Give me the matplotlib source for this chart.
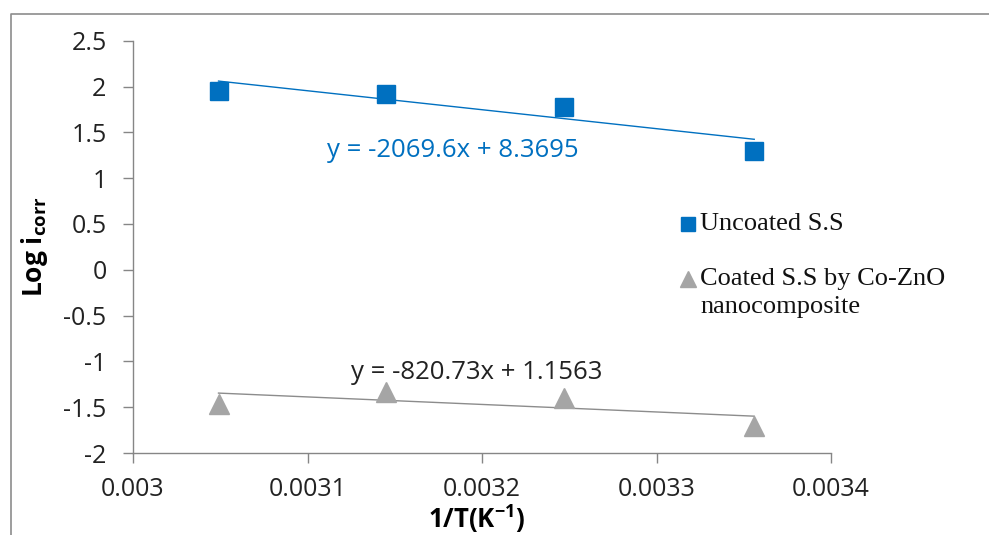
import matplotlib

matplotlib.use("Agg")
import matplotlib.pyplot as plt
from matplotlib.lines import Line2D

# 1/T for 328, 318, 308, 298 K
inv_t = [0.003049, 0.003145, 0.003247, 0.003356]
uncoated = [1.95, 1.92, 1.78, 1.30]
coated = [-1.46, -1.33, -1.40, -1.70]

# Excel linear trendline coefficients (slope, intercept)
fit_uncoated = (-2069.6, 8.3695)
fit_coated = (-820.73, 1.1563)

x_ticks = [0.003, 0.0031, 0.0032, 0.0033, 0.0034]
y_ticks = [-2, -1.5, -1, -0.5, 0, 0.5, 1, 1.5, 2, 2.5]

BLUE = "#0070C0"
GRAY = "#A5A5A5"
AXIS = "#868686"
TICK_FONT = "Open Sans"
SERIF = "Liberation Serif"

fig = plt.figure(figsize=(9.89, 5.35), dpi=100)
ax = fig.add_axes([133 / 989, 1 - 453 / 535, (831 - 133) / 989, (453 - 40.7) / 535])

# trendlines over the data range
for fit, col in ((fit_uncoated, BLUE), (fit_coated, "#8C8C8C")):
    xs = [inv_t[0], inv_t[-1]]
    ax.plot(xs, [fit[0] * x + fit[1] for x in xs], color=col, lw=1.0, zorder=2)

ax.plot(inv_t, uncoated, "s", color=BLUE, ms=13, zorder=3)
ax.plot(inv_t, coated, "^", color=GRAY, ms=14, zorder=3)

ax.set_xlim(0.003, 0.0034)
ax.set_ylim(-2, 2.5)
ax.set_xticks(x_ticks)
ax.set_xticklabels([f"{v:g}" for v in x_ticks])
ax.set_yticks(y_ticks)
ax.set_yticklabels([f"{v:g}" for v in y_ticks])

for s in ("top", "right"):
    ax.spines[s].set_visible(False)
for s in ("left", "bottom"):
    ax.spines[s].set_color(AXIS)
    ax.spines[s].set_linewidth(1.0)
ax.tick_params(direction="out", length=7, width=1.0, color=AXIS,
               labelsize=18, labelcolor="#222222")
ax.tick_params(axis="y", pad=12)
ax.tick_params(axis="x", pad=10)
for lab in ax.get_xticklabels() + ax.get_yticklabels():
    lab.set_family(TICK_FONT)

# equations
ax.text(0.003183, 1.30, "y = -2069.6x + 8.3695", color=BLUE, fontsize=18.5,
        family=TICK_FONT, ha="center", va="center")
ax.text(0.003197, -1.12, "y = -820.73x + 1.1563", color="#222222", fontsize=18.5,
        family=TICK_FONT, ha="center", va="center")

# axis labels
fig.text(35 / 989, 1 - 247 / 535, r"Log i$_{\mathregular{corr}}$", rotation=90,
         ha="center", va="center", fontsize=19, fontweight="bold",
         family=TICK_FONT)
fig.text(477 / 989, 1 - 519 / 535, r"1/T(K$^{\mathregular{-1}}$)",
         ha="center", va="center", fontsize=18.5, fontweight="bold",
         family=TICK_FONT)

# legend (drawn by hand to place the wrapped second entry)
fig.add_artist(Line2D([688 / 989], [1 - 224 / 535], marker="s", color=BLUE,
                      ms=10.5, transform=fig.transFigure))
fig.text(700 / 989, 1 - 224 / 535, "Uncoated S.S", ha="left", va="center",
         fontsize=19, family=SERIF, color="#111111")
fig.add_artist(Line2D([688 / 989], [1 - 279 / 535], marker="^", color=GRAY,
                      ms=11, transform=fig.transFigure))
fig.text(700 / 989, 1 - 279 / 535, "Coated S.S by Co-ZnO", ha="left",
         va="center", fontsize=19, family=SERIF, color="#111111")
fig.text(700 / 989, 1 - 307 / 535, "nanocomposite", ha="left", va="center",
         fontsize=19, family=SERIF, color="#111111")

# chart area border (top and left visible in the crop)
fig.add_artist(Line2D([11 / 989, 11 / 989, 1.0], [0.0, 1 - 14 / 535, 1 - 14 / 535],
                      color="#8C8C8C", lw=1.2, transform=fig.transFigure))

fig.savefig("out.png", dpi=100, facecolor="white")
